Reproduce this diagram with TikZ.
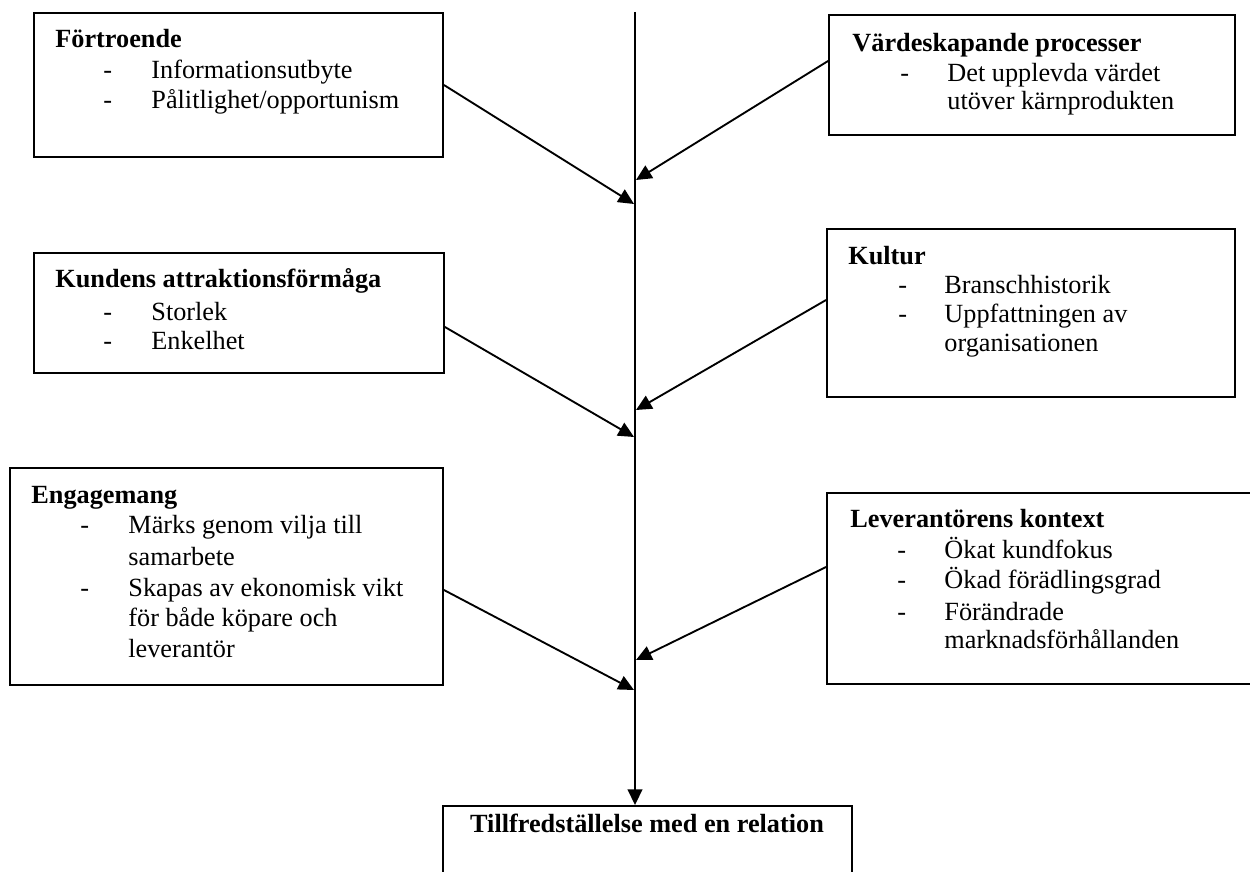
\documentclass[tikz,border=0pt]{standalone}
\usepackage{fontspec}
\setmainfont{Liberation Serif}
\usetikzlibrary{arrows.meta,fit}
\begin{document}
\begin{tikzpicture}[x=0.48pt,y=-0.48pt,
  box/.style={draw,line width=0.9pt,inner sep=0pt},
  txt/.style={anchor=base west,inner sep=0pt,font=\fontsize{12.6}{15}\selectfont},
  hd/.style={anchor=base west,inner sep=0pt,font=\fontsize{12.6}{15}\selectfont\bfseries},
  arr/.style={line width=0.9pt,-{Triangle[length=7.5pt,width=7pt]}}]
\useasboundingbox (0,0) rectangle (1250,872);
% boxes
\node[box,fit={(34,13) (443,157)}] (b1) {};
\node[box,fit={(829,15) (1235,135)}] (b2) {};
\node[box,fit={(34,253) (444,373)}] (b3) {};
\node[box,fit={(827,229) (1235,397)}] (b4) {};
\node[box,fit={(10,468) (443,685)}] (b5) {};
\node[box,fit={(827,493) (1256,684)}] (b6) {};
\node[box,fit={(443,806) (852,880)}] (b7) {};
% box 1
\node[hd] (b1h) at (55,48) {Förtroende};
\node[txt] (b1d1) at (103,79) {-};
\node[txt] (b1i1) at (151,79) {Informationsutbyte};
\node[txt] (b1d2) at (103,109) {-};
\node[txt] (b1i2) at (151,109) {Pålitlighet/opportunism};
% box 2
\node[hd] (b2h) at (852,52) {Värdeskapande processer};
\node[txt] (b2d1) at (900,82) {-};
\node[txt] (b2i1) at (947,82) {Det upplevda värdet};
\node[txt] (b2i2) at (947,110) {utöver kärnprodukten};
% box 3
\node[hd] (b3h) at (55,288) {Kundens attraktionsförmåga};
\node[txt] (b3d1) at (103,320) {-};
\node[txt] (b3i1) at (151,320) {Storlek};
\node[txt] (b3d2) at (103,349) {-};
\node[txt] (b3i2) at (151,349) {Enkelhet};
% box 4
\node[hd] (b4h) at (848,265) {Kultur};
\node[txt] (b4d1) at (898,294) {-};
\node[txt] (b4i1) at (944,294) {Branschhistorik};
\node[txt] (b4d2) at (898,323) {-};
\node[txt] (b4i2) at (944,323) {Uppfattningen av};
\node[txt] (b4i3) at (944,352) {organisationen};
% box 5
\node[hd] (b5h) at (31,503) {Engagemang};
\node[txt] (b5d1) at (80,533) {-};
\node[txt] (b5i1) at (128,533) {Märks genom vilja till};
\node[txt] (b5i2) at (128,565) {samarbete};
\node[txt] (b5d2) at (80,596) {-};
\node[txt] (b5i3) at (128,596) {Skapas av ekonomisk vikt};
\node[txt] (b5i4) at (128,626) {för både köpare och};
\node[txt] (b5i5) at (128,657) {leverantör};
% box 6
\node[hd] (b6h) at (850,527) {Leverantörens kontext};
\node[txt] (b6d1) at (897,558) {-};
\node[txt] (b6i1) at (944,558) {Ökat kundfokus};
\node[txt] (b6d2) at (897,588) {-};
\node[txt] (b6i2) at (944,588) {Ökad förädlingsgrad};
\node[txt] (b6d3) at (897,620) {-};
\node[txt] (b6i3) at (944,620) {Förändrade};
\node[txt] (b6i4) at (944,648) {marknadsförhållanden};
% box 7
\node[anchor=base,inner sep=0pt,font=\fontsize{12.6}{15}\selectfont\bfseries] (b7t) at (647,832) {Tillfredställelse med en relation};
% main line
\coordinate (top) at (635,12);
\draw[arr] (top) -- (top |- b7.north);
% arrow tips on the main line
\coordinate (t1) at (634,204);
\coordinate (t2) at (636,180);
\coordinate (t3) at (634,437);
\coordinate (t4) at (636,410);
\coordinate (t5) at (634,690);
\coordinate (t6) at (636,660);
\draw[arr] (b1.east |- 0,85) -- (t1);
\draw[arr] (b2.west |- 0,61) -- (t2);
\draw[arr] (b3.east |- 0,327) -- (t3);
\draw[arr] (b4.west |- 0,300) -- (t4);
\draw[arr] (b5.east |- 0,590) -- (t5);
\draw[arr] (b6.west |- 0,567) -- (t6);
\end{tikzpicture}
\end{document}
